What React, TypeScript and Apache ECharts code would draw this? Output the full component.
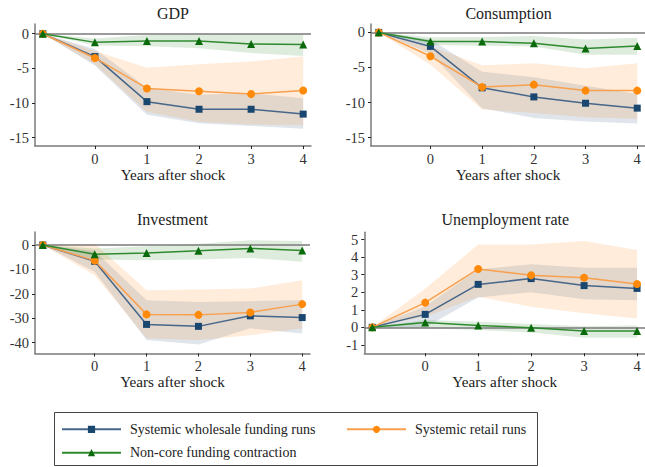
import React, { useEffect, useRef } from "react";
import * as echarts from "echarts";

// ---------- data ----------
const years = [-1, 0, 1, 2, 3, 4];
const xTickValues = [0, 1, 2, 3, 4];

const panelTitles = ["GDP", "Consumption", "Investment", "Unemployment rate"];
const seriesNames = [
  "Systemic wholesale funding runs",
  "Systemic retail runs",
  "Non-core funding contraction",
];
const xAxisTitle = "Years after shock";

// GDP
const gdpWholesale = [0, -3.3, -9.8, -10.9, -10.9, -11.6];
const gdpWholesaleLo = [0, -4.6, -11.7, -12.9, -13.3, -13.7];
const gdpWholesaleHi = [0, -2.2, -7.8, -8.8, -8.6, -9.3];
const gdpRetail = [0, -3.5, -7.9, -8.3, -8.7, -8.2];
const gdpRetailLo = [0, -4.4, -11.3, -12.7, -13.1, -13.2];
const gdpRetailHi = [0, -2.5, -4.9, -4.4, -4.0, -3.3];
const gdpNoncore = [0, -1.25, -1.05, -1.05, -1.5, -1.55];
const gdpNoncoreLo = [0, -1.7, -1.8, -2.1, -2.8, -3.2];
const gdpNoncoreHi = [0, -0.7, -0.2, -0.1, 0, -0.05];

// Consumption
const conWholesale = [0, -2.0, -7.9, -9.2, -10.1, -10.8];
const conWholesaleLo = [0, -3.0, -10.8, -12.2, -12.7, -13.0];
const conWholesaleHi = [0, -1.0, -5.6, -6.4, -7.6, -8.8];
const conRetail = [0, -3.4, -7.8, -7.45, -8.3, -8.3];
const conRetailLo = [0, -4.6, -11.0, -11.5, -12.1, -12.3];
const conRetailHi = [0, -2.0, -4.7, -4.4, -5.1, -4.4];
const conNoncore = [0, -1.3, -1.3, -1.55, -2.3, -1.95];
const conNoncoreLo = [0, -1.8, -1.9, -2.0, -3.2, -3.2];
const conNoncoreHi = [0, -0.7, -0.65, -0.5, -1.0, -0.75];

// Investment
const invWholesale = [0, -6.7, -32.5, -33.3, -29.0, -29.7];
const invWholesaleLo = [0, -11.0, -38.9, -40.7, -34.1, -36.2];
const invWholesaleHi = [0, -2.5, -22.6, -23.3, -23.0, -22.6];
const invRetail = [0, -6.4, -28.4, -28.6, -27.6, -24.2];
const invRetailLo = [0, -12.4, -38.2, -38.9, -36.9, -34.1];
const invRetailHi = [0, 0.5, -18.5, -18.2, -17.8, -14.4];
const invNoncore = [0, -3.8, -3.3, -2.4, -1.4, -2.3];
const invNoncoreLo = [0, -6.0, -6.3, -6.0, -5.3, -6.9];
const invNoncoreHi = [0, -1.5, -0.5, 0.5, 1.9, 1.6];

// Unemployment rate
const unWholesale = [0, 0.74, 2.45, 2.78, 2.38, 2.22];
const unWholesaleLo = [0, 0.0, 1.7, 2.0, 1.6, 1.55];
const unWholesaleHi = [0, 1.2, 3.3, 3.6, 3.4, 3.4];
const unRetail = [0, 1.41, 3.33, 2.97, 2.83, 2.47];
const unRetailLo = [0, 0.6, 1.75, 1.18, 0.8, 0.51];
const unRetailHi = [0, 2.2, 4.73, 4.73, 4.92, 4.41];
const unNoncore = [0, 0.27, 0.11, -0.02, -0.21, -0.21];
const unNoncoreLo = [0, -0.05, -0.15, -0.3, -0.59, -0.6];
const unNoncoreHi = [0, 0.42, 0.32, 0.19, 0.06, 0.1];

const yTickValues = [
  [0, -5, -10, -15],
  [0, -5, -10, -15],
  [0, -10, -20, -30, -40],
  [-1, 0, 1, 2, 3, 4, 5],
];
const yRanges = [
  [-16.2, 1.4],
  [-16.2, 1.2],
  [-44.4, 5.3],
  [-1.48, 5.42],
];

// ---------- styling ----------
const FONT = "Liberation Serif";
const TEXT = "#333333";
const AXIS = "#7a7a7a";
const colors = {
  blueLine: "#46668a",
  blueMark: "#1a476f",
  blueBand: "rgba(26,71,111,0.14)",
  orangeLine: "#f8a04e",
  orangeMark: "#ff8a0a",
  orangeBand: "rgba(255,127,14,0.15)",
  greenLine: "#2f8a2f",
  greenMark: "#0b6a0b",
  greenBand: "rgba(0,110,0,0.13)",
};

const grids = [
  { left: 35, top: 24, width: 276, height: 122 },
  { left: 371, top: 24, width: 275, height: 122 },
  { left: 35, top: 232, width: 275, height: 121.5 },
  { left: 364.3, top: 232.3, width: 282, height: 121 },
];

export default function App() {
  const ref = useRef<HTMLDivElement>(null);

  useEffect(() => {
    if (!ref.current) return;
    const chart = echarts.init(ref.current, null, { renderer: "svg" });

    const panels = [
      { w: gdpWholesale, wl: gdpWholesaleLo, wh: gdpWholesaleHi, r: gdpRetail, rl: gdpRetailLo, rh: gdpRetailHi, n: gdpNoncore, nl: gdpNoncoreLo, nh: gdpNoncoreHi },
      { w: conWholesale, wl: conWholesaleLo, wh: conWholesaleHi, r: conRetail, rl: conRetailLo, rh: conRetailHi, n: conNoncore, nl: conNoncoreLo, nh: conNoncoreHi },
      { w: invWholesale, wl: invWholesaleLo, wh: invWholesaleHi, r: invRetail, rl: invRetailLo, rh: invRetailHi, n: invNoncore, nl: invNoncoreLo, nh: invNoncoreHi },
      { w: unWholesale, wl: unWholesaleLo, wh: unWholesaleHi, r: unRetail, rl: unRetailLo, rh: unRetailHi, n: unNoncore, nl: unNoncoreLo, nh: unNoncoreHi },
    ];

    const band = (gi: number, lo: number[], hi: number[], fill: string, z: number) => ({
      type: "custom",
      xAxisIndex: gi,
      yAxisIndex: gi,
      silent: true,
      z,
      data: years.map((x, i) => [x, lo[i], hi[i]]),
      encode: { x: 0, y: [1, 2] },
      renderItem: (params: any, api: any) => {
        if (params.dataIndex !== 0) return null;
        const top = years.map((x, i) => api.coord([x, hi[i]]));
        const bottom = years.map((x, i) => api.coord([x, lo[i]])).reverse();
        return {
          type: "polygon",
          shape: { points: top.concat(bottom) },
          style: { fill, stroke: "none" },
        };
      },
    });

    const line = (
      gi: number,
      name: string,
      vals: number[],
      lineColor: string,
      markColor: string,
      symbol: string,
      size: number,
      z: number,
      withZero: boolean
    ) => {
      const s: any = {
        type: "line",
        name,
        xAxisIndex: gi,
        yAxisIndex: gi,
        data: years.map((x, i) => [x, vals[i]]),
        symbol,
        symbolSize: size,
        showAllSymbol: true,
        z,
        lineStyle: { color: lineColor, width: 1.5 },
        itemStyle: { color: markColor, borderWidth: 0 },
        emphasis: { disabled: true },
      };
      if (withZero) {
        s.markLine = {
          silent: true,
          symbol: ["none", "none"],
          label: { show: false },
          lineStyle: { color: AXIS, width: 1.5, type: "solid" },
          data: [{ yAxis: 0 }],
        };
      }
      return s;
    };

    const series: any[] = [];
    panels.forEach((p, gi) => {
      series.push(band(gi, p.wl, p.wh, colors.blueBand, 1));
      series.push(band(gi, p.rl, p.rh, colors.orangeBand, 1));
      series.push(band(gi, p.nl, p.nh, colors.greenBand, 1));
      series.push(line(gi, seriesNames[0], p.w, colors.blueLine, colors.blueMark, "rect", 7, 3, true));
      series.push(line(gi, seriesNames[1], p.r, colors.orangeLine, colors.orangeMark, "circle", 8, 4, false));
      series.push(line(gi, seriesNames[2], p.n, colors.greenLine, colors.greenMark, "triangle", 8, 5, false));
    });

    const xAxes = grids.map((_, gi) => ({
      type: "value",
      gridIndex: gi,
      min: -1.15,
      max: 4.15,
      name: xAxisTitle,
      nameLocation: "middle",
      nameGap: 18,
      nameTextStyle: { fontFamily: FONT, fontSize: 15.2, color: "#222" },
      axisLine: { onZero: false, lineStyle: { color: AXIS, width: 1.5 } },
      axisTick: { show: true, length: 3, customValues: xTickValues, lineStyle: { color: "#222", width: 1 } },
      axisLabel: { customValues: xTickValues, margin: 5, fontFamily: FONT, fontSize: 14.5, color: TEXT },
      splitLine: { show: false },
    }));

    const yAxes = grids.map((_, gi) => ({
      type: "value",
      gridIndex: gi,
      min: yRanges[gi][0],
      max: yRanges[gi][1],
      axisLine: { show: true, onZero: false, lineStyle: { color: AXIS, width: 1.5 } },
      axisTick: { show: true, length: 3, customValues: yTickValues[gi], lineStyle: { color: "#222", width: 1 } },
      axisLabel: { customValues: yTickValues[gi], margin: 6, fontFamily: FONT, fontSize: 14.5, color: TEXT },
      splitLine: { show: false },
    }));

    const titleY = [13.5, 13.5, 219.5, 219.5];
    const titleGraphics = panelTitles.map((t, gi) => ({
      type: "text",
      x: grids[gi].left + grids[gi].width / 2,
      y: titleY[gi],
      style: {
        text: t,
        fontFamily: FONT,
        fontSize: 16,
        fill: "#222",
        textAlign: "center",
        textVerticalAlign: "middle",
      },
    }));

    const legendBase = {
      orient: "horizontal",
      itemWidth: 59,
      itemHeight: 9,
      padding: 0,
      selectedMode: false,
      textStyle: { fontFamily: FONT, fontSize: 14, color: "#222", padding: [0, 0, 0, 4] },
    };

    chart.setOption({
      animation: false,
      backgroundColor: "#ffffff",
      grid: grids.map((g) => ({ ...g, containLabel: false })),
      xAxis: xAxes,
      yAxis: yAxes,
      legend: [
        { ...legendBase, data: [seriesNames[0]], left: 61, top: 422.3 },
        { ...legendBase, data: [seriesNames[1]], left: 346, top: 422.3 },
        { ...legendBase, data: [seriesNames[2]], left: 61, top: 445.7 },
      ],
      graphic: [
        ...titleGraphics,
        {
          type: "rect",
          shape: { x: 54.5, y: 412.5, width: 483, height: 53 },
          style: { fill: "none", stroke: "#444", lineWidth: 1 },
          silent: true,
        },
      ],
      series,
    });

    return () => chart.dispose();
  }, []);

  return (
    <div
      ref={ref}
      style={{ position: "fixed", left: 0, top: 0, width: 645, height: 467, background: "#fff" }}
    />
  );
}
